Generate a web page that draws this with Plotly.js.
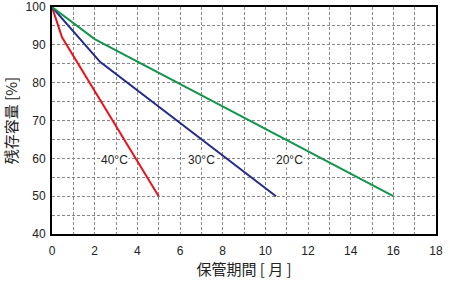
<!DOCTYPE html>
<html><head><meta charset="utf-8">
<script src="https://cdn.plot.ly/plotly-3.0.1.min.js"></script>
<style>body{margin:0;padding:0;background:#fff}#c{width:450px;height:283px}</style>
</head><body><div id="c"></div>
<script>
const months40 = [0, 0.47, 5];
const cap40 = [100, 92, 50];
const months30 = [0, 2.25, 10.5];
const cap30 = [100, 85.5, 50];
const months20 = [0, 2, 16];
const cap20 = [100, 91.5, 50];
const labelTexts = ["40°C", "30°C", "20°C"];
const labelX = [2.92, 7.0, 11.15];
const labelY = [59.6, 59.6, 59.6];

const traces = [
  {x: months40, y: cap40, mode: "lines", line: {color: "#e8141c", width: 2}},
  {x: months30, y: cap30, mode: "lines", line: {color: "#222a8a", width: 2}},
  {x: months20, y: cap20, mode: "lines", line: {color: "#12954a", width: 2}}
];
const annotations = labelTexts.map((t, i) => ({
  x: labelX[i], y: labelY[i], text: t, showarrow: false, bgcolor: "#fff", borderpad: 0,
  font: {family: "Liberation Sans, Arial", size: 12, color: "#222"}
}));
const gd = "3px,2px";
const gc = "#888";
const layout = {
  width: 450, height: 283,
  margin: {l: 52, r: 14, t: 7, b: 49},
  showlegend: false,
  paper_bgcolor: "#fff", plot_bgcolor: "#fff",
  font: {family: "Liberation Sans, Arial", size: 12, color: "#222"},
  xaxis: {
    range: [0, 18], dtick: 2, tick0: 0, showgrid: true,
    gridcolor: gc, griddash: gd, gridwidth: 1,
    minor: {dtick: 1, showgrid: true, gridcolor: gc, griddash: gd, gridwidth: 1},
    showline: true, linecolor: "#000", linewidth: 2, mirror: true,
    ticks: "", zeroline: false, ticklabelstandoff: 5,
    tickfont: {size: 12},
    title: {text: "保管期間 [ 月 ]", font: {size: 15, family: "Noto Sans CJK JP, Liberation Sans"}, standoff: 4}
  },
  yaxis: {
    range: [40, 100], dtick: 10, tick0: 40, showgrid: true,
    gridcolor: gc, griddash: gd, gridwidth: 1,
    minor: {dtick: 5, showgrid: true, gridcolor: gc, griddash: gd, gridwidth: 1},
    showline: true, linecolor: "#000", linewidth: 2, mirror: true,
    ticks: "", zeroline: false, ticklabelstandoff: 2,
    tickfont: {size: 12},
    title: {text: "残存容量 [%]", font: {size: 15, family: "Noto Sans CJK JP, Liberation Sans"}, standoff: 4}
  },
  annotations: annotations
};
Plotly.newPlot("c", traces, layout, {staticPlot: true, displayModeBar: false});
</script></body></html>
